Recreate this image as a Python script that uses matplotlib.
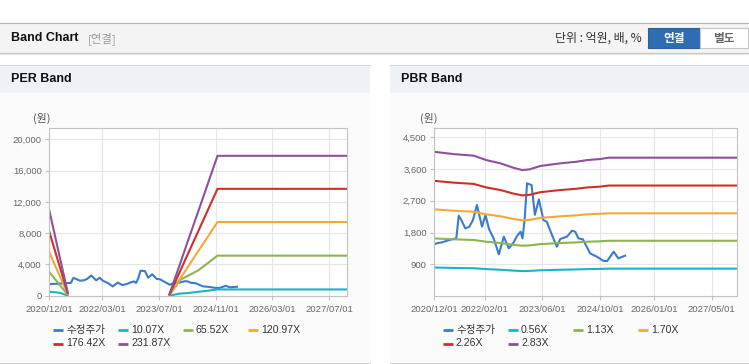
import matplotlib
matplotlib.use('Agg')
import matplotlib.pyplot as plt
from matplotlib.patches import Rectangle
import numpy as np
import pandas as pd

# ---------------- data ----------------
price_dates = ['2020-12-01', '2021-01-01', '2021-02-06', '2021-03-15', '2021-05-01', '2021-06-07',
               '2021-06-28', '2021-07-20', '2021-08-22', '2021-09-25', '2021-10-25', '2021-11-28',
               '2022-01-10', '2022-02-08', '2022-03-10', '2022-04-18', '2022-06-01', '2022-07-13',
               '2022-08-24', '2022-10-04', '2022-11-01', '2022-12-01', '2022-12-18', '2023-01-05',
               '2023-01-25', '2023-03-04', '2023-04-01', '2023-05-05', '2023-06-12', '2023-07-10',
               '2023-08-15', '2023-10-03', '2023-11-01', '2023-12-28', '2024-02-08', '2024-03-06',
               '2024-04-03', '2024-05-10', '2024-07-10', '2024-09-05', '2024-11-01', '2024-12-01',
               '2025-01-25', '2025-03-05', '2025-05-01']
price_values = [1466, 1500, 1521, 1560, 1607, 1635,
                2277, 2150, 1918, 1965, 2150, 2580,
                1965, 2296, 1900, 1635, 1182, 1682,
                1352, 1522, 1700, 1823, 1635, 2200,
                3195, 3146, 2300, 2740, 2150, 2107,
                1800, 1398, 1616, 1682, 1852, 1823,
                1635, 1607, 1210, 1114, 992, 992,
                1256, 1068, 1143]

per_labels = ['수정주가', '10.07X', '65.52X', '120.97X', '176.42X', '231.87X']
per_band_dates = ['2020-12-01', '2021-03-01', '2021-05-10', '2021-06-01',
                  '2023-10-01', '2024-01-01', '2024-03-01', '2024-06-01', '2024-08-01',
                  '2024-11-15', '2027-12-01']
per_band_1 = [510, 380, 20, np.nan, 10, 272, 332, 493, 594, 800, 800]
per_band_2 = [3070, 1406, 130, np.nan, 66, 2040, 2500, 3220, 3900, 5120, 5120]
per_band_3 = [5630, 2579, 240, np.nan, 121, 2190, 3570, 5640, 7012, 9420, 9420]
per_band_4 = [8317, 3808, 350, np.nan, 176, 3173, 5170, 8170, 10170, 13660, 13660]
per_band_5 = [11090, 5073, 460, np.nan, 232, 4154, 6770, 10690, 13306, 17880, 17880]
per_yticks = [0, 4000, 8000, 12000, 16000, 20000]
per_yticklabels = ['0', '4,000', '8,000', '12,000', '16,000', '20,000']
per_xticks = ['2020-12-01', '2022-03-01', '2023-07-01', '2024-11-01', '2026-03-01', '2027-07-01']
per_xticklabels = ['2020/12/01', '2022/03/01', '2023/07/01', '2024/11/01', '2026/03/01', '2027/07/01']

pbr_labels = ['수정주가', '0.56X', '1.13X', '1.70X', '2.26X', '2.83X']
pbr_band_dates = ['2020-12-01', '2021-05-15', '2021-11-01', '2022-02-15', '2022-06-15', '2022-10-01',
                  '2022-12-15', '2023-02-15', '2023-05-15', '2023-11-01', '2024-03-15', '2024-06-15',
                  '2024-10-01', '2024-12-15', '2027-12-01']
pbr_band_1 = [809, 796, 787, 763, 744, 720, 707, 711, 729, 744, 753, 763, 768, 776, 776]
pbr_band_2 = [1633, 1607, 1589, 1539, 1502, 1452, 1426, 1434, 1471, 1502, 1520, 1539, 1550, 1566, 1566]
pbr_band_3 = [2457, 2417, 2390, 2315, 2259, 2185, 2145, 2157, 2213, 2259, 2287, 2315, 2332, 2345, 2345]
pbr_band_4 = [3266, 3214, 3178, 3078, 3004, 2904, 2852, 2868, 2943, 3004, 3040, 3078, 3101, 3132, 3132]
pbr_band_5 = [4089, 4024, 3979, 3854, 3761, 3637, 3571, 3591, 3685, 3761, 3806, 3854, 3883, 3922, 3922]
pbr_yticks = [900, 1800, 2700, 3600, 4500]
pbr_yticklabels = ['900', '1,800', '2,700', '3,600', '4,500']
pbr_xticks = ['2020-12-01', '2022-02-01', '2023-06-01', '2024-10-01', '2026-01-01', '2027-05-01']
pbr_xticklabels = ['2020/12/01', '2022/02/01', '2023/06/01', '2024/10/01', '2026/01/01', '2027/05/01']

colors = ['#3a7bd0', '#1db3c6', '#8cb552', '#f2a83a', '#cc3028', '#8f509b']

# ---------------- figure ----------------
W, H = 749, 364
fig = plt.figure(figsize=(W / 100, H / 100), dpi=100)
fig.patch.set_facecolor('white')
bg = fig.add_axes([0, 0, 1, 1])
bg.set_xlim(0, W)
bg.set_ylim(H, 0)
bg.axis('off')
bg.set_zorder(-10)

LAT = ['Liberation Sans', 'Noto Sans CJK KR']
KR = ['Noto Sans CJK KR', 'Liberation Sans']

# top header bar
bg.add_patch(Rectangle((0, 22.5), W, 30, fc='#f4f4f4', ec='none'))
bg.plot([0, W], [22.5, 22.5], color='#b4b4b4', lw=0.8)
bg.plot([0, W], [52.5, 52.5], color='#c4c4c4', lw=0.8)
bg.plot([0, W], [53.5, 53.5], color='#e6e6e6', lw=0.8)
bg.text(11, 38, 'Band Chart', fontsize=9, fontweight='bold', family=LAT, va='center', color='#111111')
bg.text(88, 38.5, '[연결]', fontsize=8.2, family=KR, va='center', color='#9a9a9a')
bg.text(642, 38.5, '단위 : 억원, 배, %', fontsize=8.6, family=KR, va='center', ha='right', color='#333333')
bg.add_patch(Rectangle((648, 28), 52, 20, fc='#2f6db3', ec='#2a609f', lw=0.8))
bg.add_patch(Rectangle((700, 28), 48, 20, fc='white', ec='#c6c6c6', lw=0.8))
bg.text(674, 38.5, '연결', fontsize=8.4, family=KR, fontweight='bold', va='center', ha='center', color='white')
bg.text(724, 38.5, '별도', fontsize=8.4, family=KR, fontweight='bold', va='center', ha='center', color='#666666')

# panels
for x0, x1, title in [(0, 370, 'PER Band'), (390, 749, 'PBR Band')]:
    bg.add_patch(Rectangle((x0, 64.5), x1 - x0, 28, fc='#eef2f7', ec='none'))
    bg.add_patch(Rectangle((x0, 92.5), x1 - x0, 269.5, fc='#fbfbfb', ec='none'))
    bg.plot([x0, x1], [64.5, 64.5], color='#d6d6d6', lw=0.8)
    bg.plot([x0, x1], [362.5, 362.5], color='#d2d2d2', lw=0.8)
    bg.text(x0 + 11, 79, title, fontsize=9, fontweight='bold', family=LAT, va='center', color='#111111')


def px_axes(x0, y0, x1, y1):
    return fig.add_axes([x0 / W, 1 - y1 / H, (x1 - x0) / W, (y1 - y0) / H])


def style(ax, ymax, yt, ytl, xt, xtl):
    ax.set_facecolor('white')
    ax.set_xlim(pd.Timestamp('2020-12-01'), pd.Timestamp('2027-12-01'))
    ax.set_ylim(0, ymax)
    ax.set_yticks(yt)
    ax.set_yticklabels(ytl)
    ax.set_xticks(pd.to_datetime(xt))
    ax.set_xticklabels(xtl)
    for s in ax.spines.values():
        s.set_color('#c2c2c2')
        s.set_linewidth(0.8)
    ax.grid(True, color='#e6e6e6', lw=0.8)
    ax.set_axisbelow(True)
    ax.tick_params(axis='both', length=3, color='#c2c2c2', labelcolor='#666666')
    ax.tick_params(axis='x', pad=3.5)
    ax.tick_params(axis='y', pad=2.2)
    for lab in ax.get_xticklabels() + ax.get_yticklabels():
        lab.set_fontsize(6.8)
        lab.set_family('Liberation Sans')


# PER chart
ax1 = px_axes(49, 128.3, 347, 295.7)
style(ax1, 21400, per_yticks, per_yticklabels, per_xticks, per_xticklabels)
ax1.plot(pd.to_datetime(price_dates), price_values, color=colors[0], lw=1.5)
for vals, c in zip([per_band_1, per_band_2, per_band_3, per_band_4, per_band_5], colors[1:]):
    ax1.plot(pd.to_datetime(per_band_dates), vals, color=c, lw=1.5)

# PBR chart
ax2 = px_axes(434, 128.3, 737, 296)
style(ax2, 4755, pbr_yticks, pbr_yticklabels, pbr_xticks, pbr_xticklabels)
ax2.plot(pd.to_datetime(price_dates), price_values, color=colors[0], lw=1.5)
for vals, c in zip([pbr_band_1, pbr_band_2, pbr_band_3, pbr_band_4, pbr_band_5], colors[1:]):
    ax2.plot(pd.to_datetime(pbr_band_dates), vals, color=c, lw=1.5)

# "(원)" unit labels
bg.text(33, 118, '(원)', fontsize=7.8, family=KR, va='center', color='#555555')
bg.text(420, 118, '(원)', fontsize=7.8, family=KR, va='center', color='#555555')

# legends
for x_start, labels in [(53, per_labels), (443, pbr_labels)]:
    for i, (lab, c) in enumerate(zip(labels, colors)):
        row, col = divmod(i, 4)
        x = x_start + col * 65
        y = 330 + row * 13.5
        bg.plot([x, x + 10], [y, y], color=c, lw=2, solid_capstyle='butt')
        bg.text(x + 13, y, lab, fontsize=7.6, family=LAT, va='center', color='#333333')

fig.savefig('out.png', dpi=100, facecolor='white')
